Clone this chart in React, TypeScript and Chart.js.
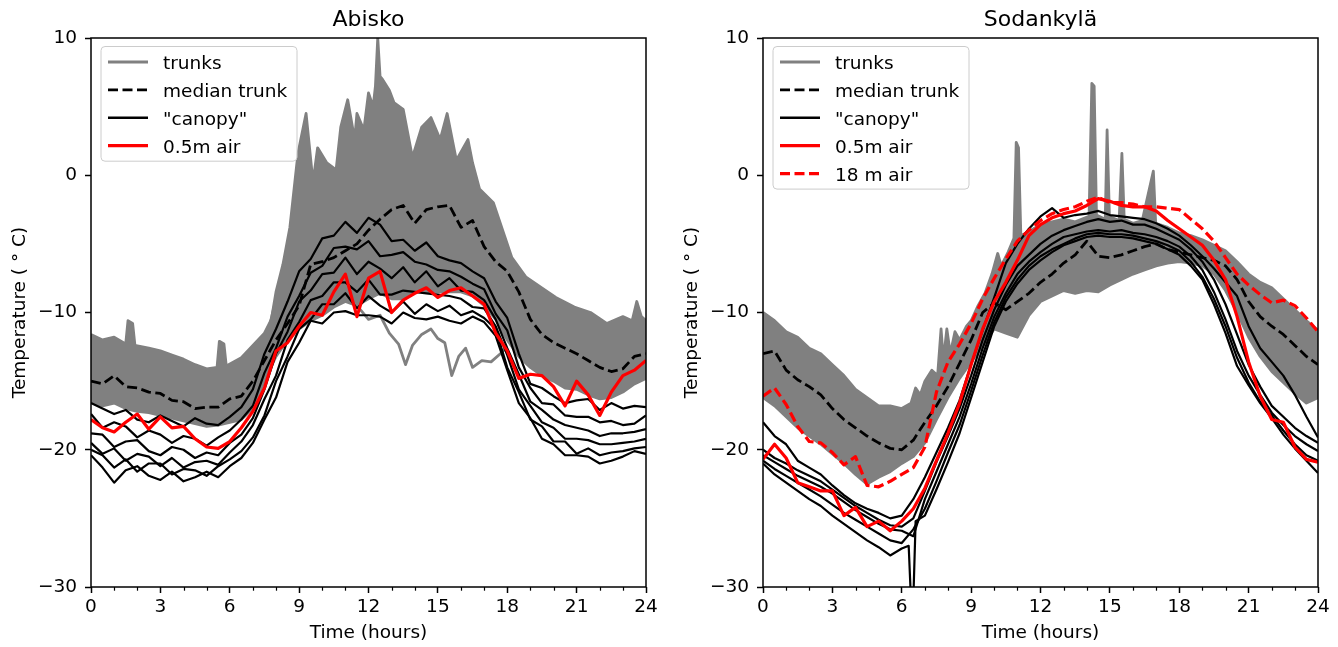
import React, { useEffect, useRef } from 'react';
import { Chart, registerables } from 'chart.js';

Chart.register(...registerables);

const FONT = '"DejaVu Sans", "Liberation Sans", sans-serif';
const GRAY = '#808080';
const RED = '#ff0000';
const BLACK = '#000000';

// Half-hour time grid (hours)
const HOURS = [
  0, 0.5, 1, 1.5, 2, 2.5, 3, 3.5, 4, 4.5,
  5, 5.5, 6, 6.5, 7, 7.5, 8, 8.5, 9, 9.5,
  10, 10.5, 11, 11.5, 12, 12.5, 13, 13.5, 14, 14.5,
  15, 15.5, 16, 16.5, 17, 17.5, 18, 18.5, 19, 19.5,
  20, 20.5, 21, 21.5, 22, 22.5, 23, 23.5, 24,
];
const X_MAJOR_STEP = 3;
const MINOR_HOURS = [1, 2, 4, 5, 7, 8, 10, 11, 13, 14, 16, 17, 19, 20, 22, 23];
const Y_MIN = -30;
const Y_MAX = 10;
const Y_STEP = 10;

// ---------------- Abisko ----------------
const abiskoTrunkTop: number[][] = [
  [0, -11.6], [0.5, -12.0], [1, -11.8], [1.5, -12.3], [1.6, -10.6], [1.8, -10.8], [1.9, -12.4],
  [2.5, -12.6], [3, -12.8], [3.5, -13.1], [4, -13.4], [4.5, -13.8], [5, -14.1], [5.45, -14.0],
  [5.55, -12.1], [5.75, -12.3], [5.85, -13.9], [6.5, -13.3], [7, -12.4], [7.5, -11.5], [7.8, -10.5],
  [8.0, -8.5], [8.3, -6.5], [8.6, -3.8], [8.95, 1.6], [9.3, 4.5], [9.6, -0.5], [9.8, 2.0],
  [10.2, 0.9], [10.6, 0.4], [10.8, 3.5], [11.1, 5.5], [11.4, 2.6], [11.5, 4.5], [11.8, 3.3],
  [12.0, 6.0], [12.2, 5.0], [12.3, 6.5], [12.4, 10.0], [12.5, 7.2], [12.6, 7.0], [12.9, 6.2],
  [13.1, 5.3], [13.5, 4.8], [13.9, 1.3], [14.3, 3.5], [14.7, 4.2], [15.1, 2.6], [15.4, 4.5],
  [15.8, 1.1], [16.3, 2.6], [16.5, 0.9], [16.8, -1.0], [17.4, -2.0], [17.8, -4.0], [18.2, -6.0],
  [18.8, -7.4], [19.4, -8.1], [20.1, -8.9], [20.9, -9.6], [21.6, -10.0], [22.3, -10.8],
  [23.0, -10.3], [23.4, -10.6], [23.6, -9.2], [23.8, -10.3], [24, -10.6],
];
const abiskoTrunkMid = [
  -14.0, -14.2, -14.0, -14.6, -14.8, -15.0, -15.2, -15.5, -15.8, -16.0,
  -16.1, -16.0, -15.7, -15.2, -14.3, -12.5, -9.0, -6.0, -4.0, -3.5,
  -3.0, -2.5, -1.5, -1.0, 0.0, 0.5, 0.0, -0.5, -0.5, 0.0,
  -0.5, -1.0, -1.5, -2.5, -4.0, -5.5, -7.5, -9.0, -10.2, -11.0,
  -11.8, -12.2, -12.6, -13.0, -13.2, -13.4, -13.2, -12.8, -12.6,
];
const abiskoTrunkLow = [
  -16.5, -16.8, -16.6, -17.0, -17.2, -17.3, -17.5, -17.7, -17.9, -18.1,
  -18.3, -18.2, -18.0, -17.8, -17.0, -15.0, -13.2, -12.0, -11.2, -10.6,
  -10.2, -9.6, -9.2, -9.5, -9.0, -8.6, -9.0, -9.0, -8.5, -8.5,
  -8.5, -8.5, -8.5, -8.8, -9.5, -10.5, -12.0, -13.2, -14.0, -14.6,
  -15.0, -15.5, -15.6, -16.0, -16.3, -16.2, -15.8, -15.2, -14.8,
];
const abiskoTrunkOdd: number[][] = [
  [11.5, -9.5], [12, -10.5], [12.5, -10.2], [12.9, -11.5], [13.3, -12.3], [13.6, -13.8],
  [13.9, -12.4], [14.3, -11.6], [14.7, -11.2], [15.0, -11.9], [15.3, -12.2], [15.6, -14.6],
  [15.9, -13.2], [16.2, -12.6], [16.5, -14.0], [16.9, -13.5], [17.3, -13.6], [17.7, -13.0],
  [18.0, -12.5],
];
const abiskoMedian = [
  -15.0, -15.2, -14.6, -15.4, -15.5, -15.8, -15.9, -16.4, -16.5, -17.0,
  -16.9, -16.9, -16.3, -16.1, -15.0, -13.5, -12.0, -10.8, -9.5, -6.5,
  -6.3, -6.0, -5.5, -5.0, -4.0, -3.2, -2.5, -2.2, -3.5, -2.5,
  -2.3, -2.2, -3.8, -3.3, -5.2, -6.3, -7.0, -8.5, -10.5, -11.6,
  -12.2, -12.6, -13.0, -13.5, -14.0, -14.3, -14.1, -13.2, -13.0,
];
// canopy: night (0–6.5 h), day (7–17.5 h), evening (18–24 h)
const abiskoCanopy1 = [
  -16.6, -17.0, -17.4, -17.1, -17.8, -18.0, -17.5, -17.9, -18.3, -17.7, -18.1, -18.2, -17.6, -16.9,
  -15.6, -13.0, -11.2, -9.2, -7.0, -6.1, -4.6, -4.4, -3.4, -4.2, -3.1, -3.6, -4.8, -4.7, -5.5, -4.9, -5.9, -6.2, -6.4, -7.0, -7.5, -9.2,
  -10.4, -13.0, -15.2, -15.5, -16.1, -16.6, -16.4, -16.3, -17.1, -16.6, -17.0, -16.8, -16.9,
];
const abiskoCanopy2 = [
  -17.4, -18.4, -18.0, -18.3, -19.1, -18.6, -18.9, -19.5, -19.0, -19.2, -19.7, -19.1, -18.6, -17.8,
  -16.8, -14.4, -12.6, -10.3, -8.8, -7.1, -6.6, -5.3, -5.2, -5.4, -4.8, -5.9, -5.8, -5.6, -6.3, -6.5, -6.9, -7.0, -7.4, -7.9, -8.3, -10.1,
  -11.3, -14.0, -15.5, -16.6, -16.7, -17.5, -17.6, -17.6, -18.0, -17.9, -18.2, -18.1, -17.5,
];
const abiskoCanopy3 = [
  -18.8, -18.9, -19.8, -19.4, -19.3, -20.1, -20.4, -19.8, -20.0, -20.6, -20.2, -20.4, -19.5, -18.9,
  -17.7, -15.6, -13.0, -11.4, -9.2, -8.4, -7.2, -7.1, -6.0, -7.2, -6.3, -6.8, -7.5, -6.7, -7.8, -7.0, -8.1, -7.5, -8.4, -8.5, -9.1, -10.5,
  -12.6, -14.5, -16.5, -17.1, -17.8, -18.2, -18.4, -18.6, -19.0, -18.8, -18.8, -18.7, -18.5,
];
const abiskoCanopy4 = [
  -19.5, -20.3, -19.9, -20.8, -20.3, -20.5, -21.2, -20.6, -21.3, -20.9, -20.8, -21.1, -20.2, -19.4,
  -18.2, -16.3, -14.6, -12.0, -10.7, -9.1, -8.8, -7.8, -7.8, -8.5, -7.6, -8.7, -8.7, -8.4, -8.5, -8.6, -8.7, -8.8, -9.0, -9.6, -9.7, -11.0,
  -13.1, -15.6, -16.8, -18.0, -18.4, -19.2, -19.2, -19.3, -19.6, -19.6, -19.5, -19.4, -19.2,
];
const abiskoCanopy5 = [
  -20.0, -20.4, -21.3, -20.7, -21.6, -21.0, -21.0, -21.8, -21.4, -21.5, -21.9, -21.2, -20.7, -20.1,
  -19.1, -17.5, -15.0, -13.2, -11.2, -10.5, -9.4, -9.4, -8.6, -9.7, -8.8, -9.5, -10.0, -9.2, -10.1, -9.4, -9.9, -9.5, -10.2, -9.9, -10.4, -11.2,
  -14.0, -15.8, -17.8, -18.3, -19.4, -19.4, -20.3, -19.9, -20.4, -20.2, -20.1, -19.9, -19.8,
];
const abiskoCanopy6 = [
  -20.4, -21.3, -22.4, -21.5, -21.2, -21.9, -22.2, -21.6, -22.3, -22.0, -21.6, -22.0, -21.2, -20.6,
  -19.5, -17.8, -16.2, -13.6, -12.2, -10.6, -10.8, -10.0, -9.9, -10.2, -10.2, -10.3, -10.8, -10.0, -10.4, -10.5, -10.3, -10.6, -10.8, -10.3, -10.7, -11.7,
  -14.2, -16.6, -17.7, -19.2, -19.6, -20.4, -20.4, -20.5, -21.0, -20.8, -20.5, -20.1, -20.3,
];
const abiskoAir05 = [
  -17.8, -18.4, -18.7, -18.0, -17.4, -18.5, -17.6, -18.4, -18.3, -19.2,
  -19.8, -19.9, -19.4, -18.4, -17.2, -15.5, -12.8, -12.2, -11.0, -10.0,
  -10.2, -8.5, -7.2, -10.3, -7.5, -7.0, -10.0, -9.1, -8.6, -8.2,
  -8.9, -8.4, -8.2, -8.8, -9.4, -11.5, -12.8, -14.8, -14.5, -14.6,
  -15.4, -16.8, -15.0, -16.0, -17.5, -15.8, -14.6, -14.2, -13.5,
];

// ---------------- Sodankylä ----------------
const sodTrunkTop: number[][] = [
  [0, -10.0], [0.5, -10.6], [1, -11.4], [1.5, -11.8], [2, -12.6], [2.5, -13.0], [3, -13.8],
  [3.5, -14.6], [4, -15.6], [4.5, -16.2], [5, -16.8], [5.5, -16.8], [6, -17.0], [6.4, -16.6],
  [6.6, -15.5], [6.8, -16.0], [7.0, -15.0], [7.3, -14.2], [7.55, -14.6], [7.7, -11.2],
  [7.8, -13.5], [7.95, -11.2], [8.1, -13.0], [8.3, -11.4], [8.5, -12.0], [8.8, -11.0],
  [9.0, -10.6], [9.3, -9.5], [9.6, -8.6], [9.9, -7.2], [10.15, -5.7], [10.3, -6.6], [10.6, -5.6],
  [10.85, -4.6], [10.95, 2.4], [11.05, 2.0], [11.15, -4.4], [11.5, -4.1], [12, -3.6],
  [12.5, -3.4], [13, -3.2], [13.5, -3.4], [14.1, -3.0], [14.22, 6.7], [14.32, 6.5],
  [14.42, -2.9], [14.8, -3.2], [14.88, 3.3], [14.98, -3.0], [15.4, -3.3], [15.52, 1.6],
  [15.62, -3.2], [16.0, -3.5], [16.4, -3.3], [16.88, 0.3], [16.98, -3.5], [17.5, -3.8],
  [18, -4.2], [18.5, -4.4], [19, -4.7], [19.5, -5.1], [20, -5.5], [20.5, -6.3], [21, -7.2],
  [21.5, -7.8], [22, -8.2], [22.5, -9.0], [23, -9.8], [23.5, -10.6], [24, -11.3],
];
const sodTrunkMid = [
  -13.1, -13.5, -14.4, -15.0, -15.7, -16.3, -17.0, -17.8, -18.6, -19.3,
  -19.4, -19.2, -19.0, -18.4, -17.2, -15.8, -14.2, -13.0, -11.8, -10.4,
  -8.8, -8.2, -7.6, -7.0, -6.4, -6.0, -5.7, -5.8, -5.6, -5.8,
  -5.5, -5.4, -5.2, -5.0, -5.0, -5.1, -5.2, -5.4, -5.7, -6.2,
  -7.0, -8.2, -9.5, -10.6, -11.4, -12.2, -13.0, -13.8, -13.9,
];
const sodTrunkLow = [
  -16.2, -16.8, -17.6, -18.4, -19.0, -19.6, -20.3, -21.0, -21.8, -22.5,
  -22.0, -21.6, -21.0, -20.5, -19.5, -17.8, -16.2, -14.8, -13.6, -12.4,
  -11.2, -11.5, -11.8, -10.2, -9.2, -8.8, -8.4, -8.6, -8.4, -8.5,
  -8.0, -7.6, -7.2, -6.9, -6.6, -6.4, -6.3, -6.4, -6.6, -7.2,
  -8.4, -10.0, -11.8, -13.2, -14.3, -15.1, -15.9, -16.6, -16.2,
];
const sodMedian = [
  -13.0, -12.8, -14.2, -14.9, -15.4, -16.0, -17.0, -17.8, -18.4, -19.0,
  -19.5, -19.9, -20.0, -19.3, -18.0, -16.8, -15.4, -13.7, -12.0, -10.0,
  -9.3, -9.8, -9.2, -8.6, -7.8, -7.2, -6.4, -5.8, -4.8, -5.9,
  -6.0, -5.8, -5.5, -5.2, -5.0, -5.4, -5.6, -5.8, -6.0, -6.2,
  -6.6, -7.6, -9.2, -10.3, -11.0, -11.6, -12.4, -13.2, -13.8,
];
const sodCanopy1 = [
  -18.0, -19.0, -19.6, -20.8, -21.3, -21.8, -22.6, -23.3, -23.9, -24.3,
  -24.6, -25.0, -24.8, -23.6, -22.0, -20.2, -18.4, -16.4, -13.8, -11.3,
  -8.9, -6.4, -5.0, -3.9, -3.0, -2.4, -3.1, -2.9, -2.8, -2.6,
  -2.9, -3.0, -3.1, -3.2, -3.5, -3.9, -4.4, -5.1, -5.9, -6.8,
  -7.8, -8.8, -11.0, -12.6, -13.6, -14.6, -16.0, -17.6, -19.1,
];
const sodCanopy2 = [
  -20.0, -20.6, -21.0, -21.5, -21.9, -22.3, -22.9, -23.5, -24.1, -24.6,
  -25.1, -25.5, -25.6, -25.0, -23.0, -20.9, -19.0, -17.0, -14.6, -12.0,
  -9.8, -8.0, -6.6, -5.8, -5.0, -4.4, -4.0, -3.7, -3.4, -3.2,
  -3.4, -3.3, -3.6, -3.6, -3.9, -4.3, -4.7, -5.4, -6.3, -7.6,
  -9.4, -11.6, -13.8, -15.4, -16.8, -17.6, -18.4, -19.0, -19.5,
];
const sodCanopy3 = [
  -20.4, -20.9, -21.4, -21.9, -22.3, -22.7, -23.2, -23.8, -24.4, -24.9,
  -25.4, -25.8, -25.9, -26.3, -23.6, -21.6, -19.6, -17.6, -15.2, -12.6,
  -10.3, -8.6, -7.2, -6.3, -5.6, -5.0, -4.5, -4.3, -4.1, -4.0,
  -4.1, -4.0, -4.2, -4.3, -4.5, -4.8, -5.2, -5.9, -6.9, -8.5,
  -10.5, -12.8, -14.6, -16.0, -17.3, -18.2, -19.0, -19.6, -20.1,
];
const sodCanopy4 = [
  -20.8, -21.4, -21.9, -22.4, -22.9, -23.4, -24.0, -24.6, -25.1, -25.6,
  -26.1, -26.6, -26.8, -25.8, -24.3, -22.3, -20.2, -18.2, -15.7, -13.1,
  -10.7, -8.9, -7.6, -6.6, -5.9, -5.4, -5.0, -4.6, -4.3, -4.2,
  -4.3, -4.3, -4.4, -4.6, -4.8, -5.1, -5.5, -6.3, -7.4, -9.0,
  -11.0, -13.3, -15.1, -16.5, -17.5, -18.6, -19.6, -20.4, -20.8,
];
const sodCanopy5: number[][] = [
  [0, -21.0], [0.5, -21.8], [1, -22.4], [1.5, -23.0], [2, -23.6], [2.5, -24.1], [3, -24.8],
  [3.5, -25.4], [4, -26.0], [4.5, -26.6], [5, -27.1], [5.5, -27.7], [6, -27.2], [6.3, -27.0],
  [6.4, -31.0], [6.5, -31.0], [6.6, -25.2], [7, -24.8], [7.5, -22.9], [8, -20.9], [8.5, -18.8],
  [9, -16.2], [9.5, -13.6], [10, -11.0], [10.5, -9.2], [11, -7.9], [11.5, -6.9], [12, -6.2],
  [12.5, -5.6], [13, -5.1], [13.5, -4.8], [14, -4.5], [14.5, -4.4], [15, -4.5], [15.5, -4.5],
  [16, -4.6], [16.5, -4.8], [17, -5.0], [17.5, -5.4], [18, -5.8], [18.5, -6.6], [19, -7.6],
  [19.5, -9.4], [20, -11.5], [20.5, -13.9], [21, -15.3], [21.5, -16.6], [22, -17.7],
  [22.5, -18.9], [23, -19.9], [23.5, -20.8], [24, -21.7],
];
const sodAir05 = [
  -20.7, -19.6, -20.6, -22.4, -22.7, -23.0, -23.0, -24.8, -24.2, -25.6,
  -25.2, -25.9, -25.2, -24.3, -22.8, -20.8, -18.8, -16.6, -13.8, -11.2,
  -9.2, -7.8, -6.2, -4.4, -3.6, -3.1, -2.8, -2.6, -2.2, -1.7,
  -1.9, -2.2, -2.3, -2.3, -2.6, -3.3, -3.9, -4.5, -5.1, -6.2,
  -7.6, -10.3, -13.6, -16.1, -17.8, -18.0, -19.8, -20.7, -20.9,
];
const sodAir18 = [
  -16.1, -15.5, -16.7, -18.3, -19.4, -19.5, -20.2, -21.1, -20.5, -22.6,
  -22.7, -22.3, -21.8, -21.3, -19.8, -15.8, -13.6, -12.3, -10.8, -9.0,
  -7.5, -6.1, -4.8, -4.0, -3.3, -2.8, -2.5, -2.3, -1.9, -1.6,
  -2.0, -2.0, -2.1, -2.3, -2.3, -2.4, -2.5, -3.2, -3.9, -4.8,
  -6.0, -7.2, -8.0, -8.7, -9.3, -9.1, -9.5, -10.4, -11.4,
];

const LABEL_TRUNKS = 'trunks';
const LABEL_MEDIAN = 'median trunk';
const LABEL_CANOPY = '"canopy"';
const LABEL_AIR05 = '0.5m air';
const LABEL_AIR18 = '18 m air';

const DASH = [10, 4.5];
const W_GRAY = 2.8;
const W_MEDIAN = 2.8;
const W_CANOPY = 2.2;
const W_RED = 3.2;

function onHours(values: number[]) {
  return values.map((v, i) => ({ x: HOURS[i], y: v }));
}
function fromPairs(pairs: number[][]) {
  return pairs.map(([x, y]) => ({ x, y }));
}
function line(data: any[], color: string, width: number, extra: any = {}) {
  return {
    data,
    borderColor: color,
    backgroundColor: color,
    borderWidth: width,
    pointRadius: 0,
    pointHoverRadius: 0,
    fill: false,
    tension: 0,
    borderJoinStyle: 'round',
    borderCapStyle: 'butt',
    ...extra,
  };
}

function fmtTick(v: number) {
  return v < 0 ? '\u2212' + Math.abs(v) : String(v);
}

function framePlugin(title: string, items: any[]) {
  return {
    id: 'frameAndLegend',
    afterDraw(chart: any) {
      const { ctx, chartArea: a, scales } = chart;
      ctx.save();
      // minor x ticks
      ctx.strokeStyle = BLACK;
      ctx.lineWidth = 1.2;
      for (const h of MINOR_HOURS) {
        const x = Math.round(scales.x.getPixelForValue(h)) + 0.5;
        ctx.beginPath();
        ctx.moveTo(x, a.bottom);
        ctx.lineTo(x, a.bottom + 3.7);
        ctx.stroke();
      }
      // spines
      ctx.lineWidth = 1.5;
      ctx.strokeRect(a.left, a.top, a.right - a.left, a.bottom - a.top);
      // title
      ctx.fillStyle = BLACK;
      ctx.font = `22px ${FONT}`;
      ctx.textAlign = 'center';
      ctx.textBaseline = 'alphabetic';
      ctx.fillText(title, (a.left + a.right) / 2, 26);
      // legend
      const bx = a.left + 10;
      const by = a.top + 8.5;
      const bw = 196;
      const rowH = 27.9;
      const bh = 31 + (items.length - 1) * rowH;
      const r = 4;
      ctx.beginPath();
      ctx.moveTo(bx + r, by);
      ctx.lineTo(bx + bw - r, by);
      ctx.arcTo(bx + bw, by, bx + bw, by + r, r);
      ctx.lineTo(bx + bw, by + bh - r);
      ctx.arcTo(bx + bw, by + bh, bx + bw - r, by + bh, r);
      ctx.lineTo(bx + r, by + bh);
      ctx.arcTo(bx, by + bh, bx, by + bh - r, r);
      ctx.lineTo(bx, by + r);
      ctx.arcTo(bx, by, bx + r, by, r);
      ctx.closePath();
      ctx.fillStyle = 'rgba(255,255,255,0.8)';
      ctx.fill();
      ctx.strokeStyle = '#cccccc';
      ctx.lineWidth = 1;
      ctx.stroke();
      items.forEach((it, i) => {
        const cy = by + 15.5 + i * rowH;
        ctx.save();
        ctx.setLineDash(it.dash || []);
        ctx.strokeStyle = it.color;
        ctx.lineWidth = it.width;
        ctx.lineCap = 'butt';
        ctx.beginPath();
        ctx.moveTo(bx + 7, cy);
        ctx.lineTo(bx + 47, cy);
        ctx.stroke();
        ctx.restore();
        ctx.fillStyle = BLACK;
        ctx.font = `18.5px ${FONT}`;
        ctx.textAlign = 'left';
        ctx.textBaseline = 'alphabetic';
        ctx.fillText(it.label, bx + 62, cy + 7.3);
      });
      ctx.restore();
    },
  };
}

function makeChart(canvas: HTMLCanvasElement, panel: any) {
  const tickFont = { family: FONT, size: 18.5 };
  return new Chart(canvas, {
    type: 'line',
    data: { datasets: panel.datasets },
    options: {
      animation: false,
      responsive: false,
      devicePixelRatio: 1,
      events: [],
      layout: { padding: { left: 0, right: panel.padRight, top: 38, bottom: 0 } },
      plugins: {
        legend: { display: false },
        title: { display: false },
        tooltip: { enabled: false },
      },
      scales: {
        x: {
          type: 'linear',
          min: 0,
          max: 24,
          afterFit: (s: any) => {
            s.height = 60;
          },
          ticks: {
            stepSize: X_MAJOR_STEP,
            color: BLACK,
            font: tickFont,
            padding: 3,
            maxRotation: 0,
            autoSkip: false,
          },
          grid: {
            display: true,
            drawOnChartArea: false,
            drawTicks: true,
            tickLength: 6,
            color: BLACK,
            tickWidth: 1.5,
          },
          border: { display: false },
          title: {
            display: true,
            text: 'Time (hours)',
            color: BLACK,
            font: tickFont,
            padding: { top: 0, bottom: 3 },
          },
        },
        y: {
          type: 'linear',
          min: Y_MIN,
          max: Y_MAX,
          afterFit: (s: any) => {
            s.width = panel.yWidth;
          },
          ticks: {
            stepSize: Y_STEP,
            color: BLACK,
            font: tickFont,
            padding: 8,
            callback: (v: any) => fmtTick(Number(v)),
          },
          grid: {
            display: true,
            drawOnChartArea: false,
            drawTicks: true,
            tickLength: 6,
            color: BLACK,
            tickWidth: 1.5,
          },
          border: { display: false },
          title: {
            display: true,
            text: 'Temperature ( \u00B0 C)',
            color: BLACK,
            font: tickFont,
            padding: { top: panel.yTitlePad, bottom: 0 },
          },
        },
      },
    } as any,
    plugins: [framePlugin(panel.title, panel.legend)],
  } as any);
}

function abiskoPanel() {
  const canopies = [abiskoCanopy1, abiskoCanopy2, abiskoCanopy3, abiskoCanopy4, abiskoCanopy5, abiskoCanopy6];
  return {
    title: 'Abisko',
    padRight: 23,
    yWidth: 91,
    yTitlePad: 9,
    datasets: [
      line(fromPairs(abiskoTrunkTop), GRAY, W_GRAY, { order: 4, label: LABEL_TRUNKS }),
      line(onHours(abiskoTrunkMid), GRAY, W_GRAY, { order: 4, fill: '-1' }),
      line(onHours(abiskoTrunkLow), GRAY, W_GRAY, { order: 4, fill: '-1' }),
      line(fromPairs(abiskoTrunkOdd), GRAY, W_GRAY, { order: 4 }),
      line(onHours(abiskoMedian), BLACK, W_MEDIAN, { order: 3, borderDash: DASH, label: LABEL_MEDIAN }),
      ...canopies.map((c, i) => line(onHours(c), BLACK, W_CANOPY, { order: 2, label: i === 0 ? LABEL_CANOPY : '' })),
      line(onHours(abiskoAir05), RED, W_RED, { order: 1, label: LABEL_AIR05 }),
    ],
    legend: [
      { label: LABEL_TRUNKS, color: GRAY, width: W_GRAY },
      { label: LABEL_MEDIAN, color: BLACK, width: W_MEDIAN, dash: DASH },
      { label: LABEL_CANOPY, color: BLACK, width: W_CANOPY + 0.3 },
      { label: LABEL_AIR05, color: RED, width: W_RED },
    ],
  };
}

function sodPanel() {
  const canopies = [sodCanopy1, sodCanopy2, sodCanopy3, sodCanopy4];
  return {
    title: 'Sodankyl\u00E4',
    padRight: 20,
    yWidth: 94,
    yTitlePad: 12,
    datasets: [
      line(fromPairs(sodTrunkTop), GRAY, W_GRAY, { order: 4, label: LABEL_TRUNKS }),
      line(onHours(sodTrunkMid), GRAY, W_GRAY, { order: 4, fill: '-1' }),
      line(onHours(sodTrunkLow), GRAY, W_GRAY, { order: 4, fill: '-1' }),
      line(onHours(sodMedian), BLACK, W_MEDIAN, { order: 3, borderDash: DASH, label: LABEL_MEDIAN }),
      ...canopies.map((c, i) => line(onHours(c), BLACK, W_CANOPY, { order: 2, label: i === 0 ? LABEL_CANOPY : '' })),
      line(fromPairs(sodCanopy5), BLACK, W_CANOPY, { order: 2 }),
      line(onHours(sodAir05), RED, W_RED, { order: 1, label: LABEL_AIR05 }),
      line(onHours(sodAir18), RED, W_RED, { order: 0, borderDash: DASH, label: LABEL_AIR18 }),
    ],
    legend: [
      { label: LABEL_TRUNKS, color: GRAY, width: W_GRAY },
      { label: LABEL_MEDIAN, color: BLACK, width: W_MEDIAN, dash: DASH },
      { label: LABEL_CANOPY, color: BLACK, width: W_CANOPY + 0.3 },
      { label: LABEL_AIR05, color: RED, width: W_RED },
      { label: LABEL_AIR18, color: RED, width: W_RED, dash: DASH },
    ],
  };
}

export default function App() {
  const leftRef = useRef<HTMLCanvasElement>(null);
  const rightRef = useRef<HTMLCanvasElement>(null);
  useEffect(() => {
    const c1 = makeChart(leftRef.current as HTMLCanvasElement, abiskoPanel());
    const c2 = makeChart(rightRef.current as HTMLCanvasElement, sodPanel());
    return () => {
      c1.destroy();
      c2.destroy();
    };
  }, []);
  return (
    <div style={{ position: 'absolute', left: 0, top: 0, width: 1338, height: 647, background: '#ffffff' }}>
      <canvas ref={leftRef} width={669} height={647} style={{ position: 'absolute', left: 0, top: 0 }} />
      <canvas ref={rightRef} width={669} height={647} style={{ position: 'absolute', left: 669, top: 0 }} />
    </div>
  );
}
